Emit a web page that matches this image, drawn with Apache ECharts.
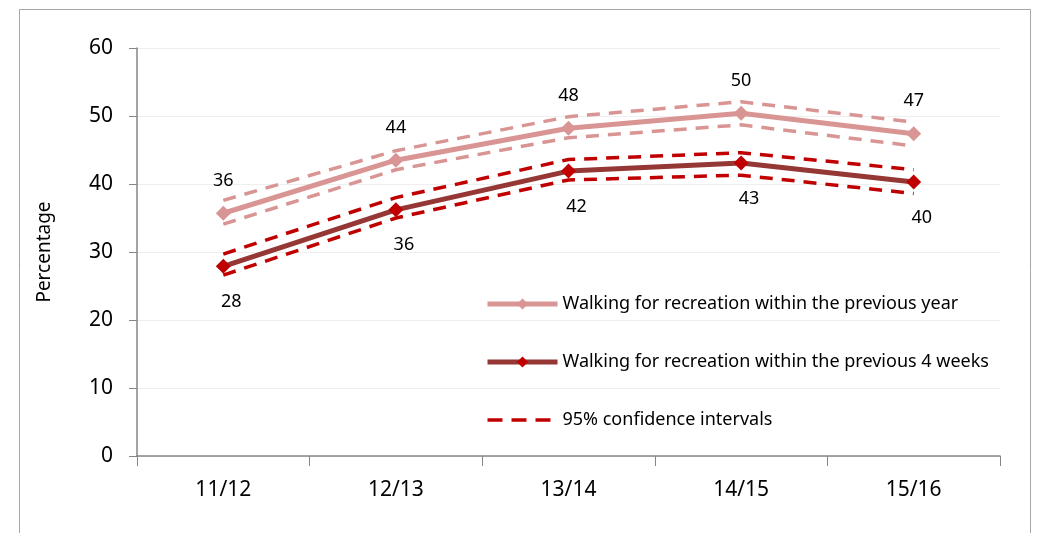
<!DOCTYPE html>
<html>
<head>
<meta charset="utf-8">
<script src="https://cdn.jsdelivr.net/npm/echarts@6/dist/echarts.min.js"></script>
<style>
  html, body { margin: 0; padding: 0; background: #fff; }
  #main { width: 1041px; height: 533px; }
</style>
</head>
<body>
<div id="main"></div>
<script>
// categories and values
var years = ['11/12', '12/13', '13/14', '14/15', '15/16'];
var prevYear = [35.7, 43.5, 48.2, 50.4, 47.4];
var prevYearUpper = [37.6, 44.9, 49.9, 52.1, 49.1];
var prevYearLower = [34.1, 42.1, 46.8, 48.7, 45.6];
var prev4Weeks = [27.9, 36.2, 41.9, 43.1, 40.3];
var prev4WeeksUpper = [29.7, 38.0, 43.6, 44.6, 42.1];
var prev4WeeksLower = [26.6, 35.0, 40.6, 41.3, 38.6];

var font = 'Noto Sans';
var pink = '#d99594';
var darkRed = '#953735';
var red = '#c00000';
var nameYear = 'Walking for recreation within the previous year';
var name4Weeks = 'Walking for recreation within the previous 4 weeks';
var nameCi = '95% confidence intervals';

var chart = echarts.init(document.getElementById('main'));

function ciLine (name, data, color) {
  return {
    name: name,
    type: 'line',
    data: data,
    symbol: 'none',
    silent: true,
    z: 1,
    lineStyle: { color: color, width: 3.5, type: [13, 9] }
  };
}

function roundLabel (p) {
  return Math.round(p.value);
}

chart.setOption({
  animation: false,
  textStyle: { fontFamily: font },
  graphic: [{
    type: 'rect',
    shape: { x: 19.5, y: 9.5, width: 1011, height: 600 },
    style: { fill: 'none', stroke: '#a6a6a6', lineWidth: 1 },
    silent: true
  }],
  grid: { left: 137, right: 41, top: 48, bottom: 77 },
  legend: {
    orient: 'vertical',
    left: 480,
    top: 290,
    itemWidth: 70,
    itemHeight: 14,
    itemGap: 40,
    textStyle: { fontFamily: font, fontSize: 18, color: '#000' },
    data: [
      { name: nameYear, lineStyle: { width: 5 } },
      { name: name4Weeks, lineStyle: { width: 5 } },
      { name: nameCi, lineStyle: { width: 3.5, type: [15, 9] }, itemStyle: { opacity: 0 } }
    ]
  },
  xAxis: {
    type: 'category',
    data: years,
    boundaryGap: true,
    axisLine: { lineStyle: { color: '#868686', width: 1.5 } },
    axisTick: { show: true, length: 10, lineStyle: { color: '#868686' } },
    axisLabel: { fontFamily: font, fontSize: 21, color: '#000', margin: 24 }
  },
  yAxis: {
    type: 'value',
    min: 0,
    max: 60,
    interval: 10,
    name: 'Percentage',
    nameLocation: 'middle',
    nameGap: 83,
    nameTextStyle: { fontFamily: font, fontSize: 19, color: '#000' },
    axisLine: { show: true, lineStyle: { color: '#868686', width: 1.5 } },
    axisTick: { show: true, length: 8, lineStyle: { color: '#868686' } },
    axisLabel: { fontFamily: font, fontSize: 21, color: '#000', margin: 24 },
    splitLine: { lineStyle: { color: '#efefef' } }
  },
  series: [
    ciLine('ciYearUpper', prevYearUpper, pink),
    ciLine('ciYearLower', prevYearLower, pink),
    ciLine('ci4Upper', prev4WeeksUpper, red),
    ciLine('ci4Lower', prev4WeeksLower, red),
    {
      name: nameYear,
      type: 'line',
      data: prevYear,
      z: 3,
      symbol: 'diamond',
      symbolSize: 15,
      itemStyle: { color: pink },
      lineStyle: { color: pink, width: 5 },
      label: {
        show: true,
        position: 'top',
        distance: 16,
        fontFamily: font,
        fontSize: 18,
        color: '#000',
        formatter: roundLabel
      }
    },
    {
      name: name4Weeks,
      type: 'line',
      data: prev4Weeks,
      z: 3,
      symbol: 'diamond',
      symbolSize: 15,
      itemStyle: { color: red },
      lineStyle: { color: darkRed, width: 5 },
      label: {
        show: true,
        position: 'bottom',
        distance: 19,
        offset: [8, 0],
        fontFamily: font,
        fontSize: 18,
        color: '#000',
        formatter: roundLabel
      }
    },
    {
      name: nameCi,
      type: 'line',
      data: [],
      symbol: 'none',
      itemStyle: { color: red },
      lineStyle: { color: red, width: 3.5, type: [13, 9] }
    }
  ]
});
</script>
</body>
</html>
